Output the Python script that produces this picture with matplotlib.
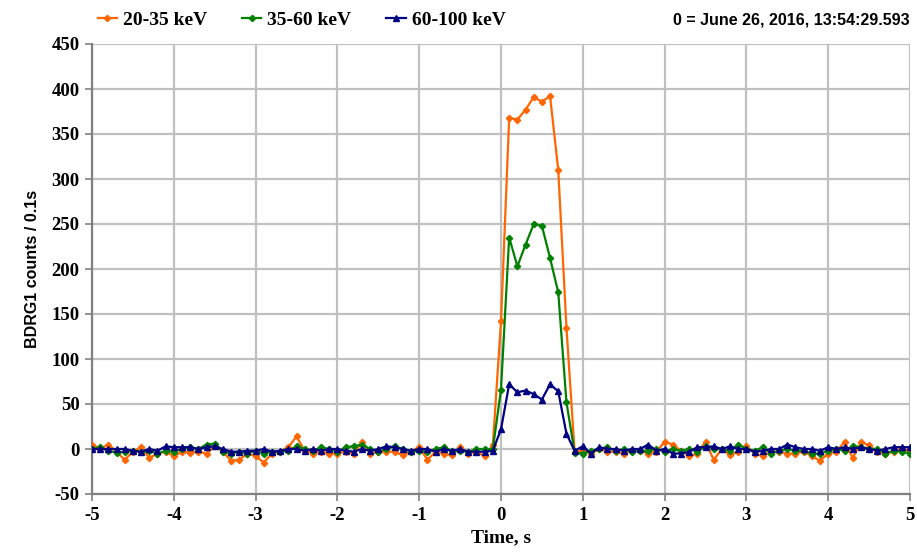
import numpy as np
import matplotlib
matplotlib.use("Agg")
import matplotlib.pyplot as plt
from matplotlib.ticker import MultipleLocator

plt.rcParams["axes.unicode_minus"] = False

time_s = [round(-5 + 0.1 * i, 1) for i in range(101)]

orange_20_35 = [
    5, 0, 5, -3, -12, -3, 2, -10, -5, -3,
    -8, -3, -4, -3, -5, 3, -3, -13, -12, -5,
    -8, -15, -5, -3, 2, 14, -2, -5, -3, -5,
    -5, -3, -5, 8, -5, -3, -3, -3, -7, -3,
    2, -12, -3, -5, -7, 2, -5, -3, -8, 4,
    142, 368, 366, 377, 391, 386, 392, 310, 135, -3,
    -2, -5, 0, -3, -3, -5, -2, -2, -5, -3,
    8, 5, -2, -8, -5, 8, -12, 0, -7, -3,
    3, -5, -8, -3, -3, -5, -5, -3, -8, -13,
    -5, -3, 8, -10, 8, 4, -3, -5, -3, 0,
    -3,
]

green_35_60 = [
    0, 2, -2, -4, -3, -2, -3, -2, -5, -2,
    -3, 0, 2, 0, 5, 6, -3, -5, -3, -5,
    -2, -5, -3, -3, -2, 3, 0, -2, 2, 0,
    -3, 2, 3, 5, 0, -3, 0, 3, 0, -3,
    -2, -3, 0, 2, -2, -2, -3, 0, 0, 0,
    66, 235, 203, 227, 250, 248, 212, 174, 52, -4,
    -5, -2, 0, 2, -2, 0, -3, -2, -2, 0,
    -3, 0, -2, 0, -3, 3, 0, 0, -2, 5,
    0, -2, 2, -5, -2, 0, -2, -2, -5, -5,
    -2, 0, -2, 3, 2, 0, 0, -5, -2, -3,
    -5,
]

blue_60_100 = [
    0, 0, 0, 0, 0, -2, -3, 0, -2, 3,
    2, 2, 2, 0, 2, 3, 0, -3, -3, -2,
    -2, 0, -3, -2, 0, 0, -2, 0, -2, 0,
    0, -2, -3, 0, -2, 0, 3, 2, 0, -2,
    0, 0, -3, 0, -2, 0, -3, -3, -3, -2,
    22, 72, 63, 65, 61, 55, 72, 64, 17, -2,
    3, -5, 2, 0, 0, -2, 0, 0, 5, -2,
    0, -5, -5, -3, 2, 2, 3, 0, 3, 0,
    0, -3, -2, 0, 0, 5, 2, 0, 0, -2,
    2, 0, 2, 0, 2, 0, -2, 0, 2, 2,
    2,
]

series_labels = ["20-35 keV", "35-60 keV", "60-100 keV"]
x_ticks = [-5, -4, -3, -2, -1, 0, 1, 2, 3, 4, 5]

fig = plt.figure(figsize=(9.17, 5.6), dpi=100)
ax = fig.add_axes([92 / 917, 66 / 560, 818 / 917, 450 / 560])

ax.plot(time_s, orange_20_35, color="#FF6600", lw=1.6, marker="D", ms=3.2,
        label=series_labels[0], zorder=3)
ax.plot(time_s, green_35_60, color="#008000", lw=1.6, marker="D", ms=3.2,
        label=series_labels[1], zorder=4)
ax.plot(time_s, blue_60_100, color="#000080", lw=1.6, marker="^", ms=4.5,
        label=series_labels[2], zorder=5)

ax.set_xlim(-5, 5)
ax.set_ylim(-50, 450)
ax.set_xticks(x_ticks)
ax.yaxis.set_major_locator(MultipleLocator(50))
ax.grid(True, color="#C0C0C0", lw=1.6, zorder=0)
ax.set_axisbelow(True)
for s in ["top", "right"]:
    ax.spines[s].set_visible(False)
for s in ["left", "bottom"]:
    ax.spines[s].set_color("#808080")
    ax.spines[s].set_linewidth(1.6)
ax.tick_params(direction="out", length=5, width=1.2, color="#808080", pad=4)

serif = ["Liberation Serif", "DejaVu Serif"]
for lab in ax.get_xticklabels() + ax.get_yticklabels():
    lab.set_family(serif)
    lab.set_fontweight("bold")
    lab.set_fontsize(13.5)

ax.set_xlabel("Time, s", family=serif, fontweight="bold", fontsize=14, labelpad=4)
ax.set_ylabel("BDRG1 counts / 0.1s", family=["Liberation Sans", "DejaVu Sans"],
              fontweight="bold", fontsize=11.5, labelpad=8)

leg = fig.legend(loc="center left", bbox_to_anchor=(80 / 917, 1 - 20 / 560), ncol=3,
                 frameon=False, handlelength=1.0, handletextpad=0.3, columnspacing=1.8,
                 prop={"family": serif, "weight": "bold", "size": 14})

fig.text(910 / 917, 1 - 20 / 560, "0 = June 26, 2016, 13:54:29.593",
         ha="right", va="center", family=["Liberation Sans", "DejaVu Sans"],
         fontweight="bold", fontsize=11.5)

fig.savefig("out.png", dpi=100)
